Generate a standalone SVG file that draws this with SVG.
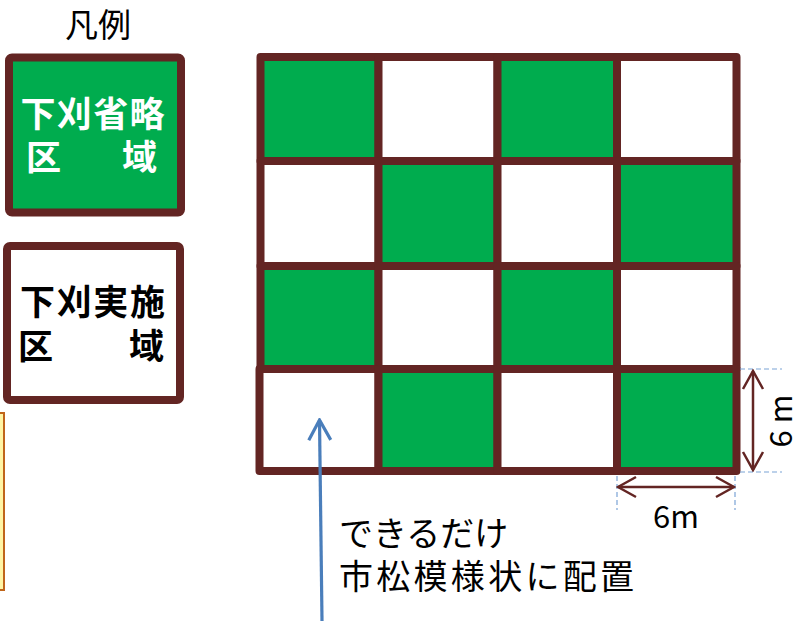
<svg xmlns="http://www.w3.org/2000/svg" width="794" height="621" viewBox="0 0 794 621">
<defs>
<style>
.cell{stroke:#632523;stroke-width:8;stroke-linejoin:round}
.g{fill:#00AC4E}
.w{fill:#FFFFFF}
.jp{font-family:"Noto Sans CJK JP","Noto Sans CJK SC",sans-serif}
.leg{font-size:35px;font-weight:bold}
.dim{stroke:#632523;stroke-width:2.5;fill:none}
.dash{stroke:#7BA3D6;stroke-width:1.2;stroke-dasharray:5 3;fill:none}
</style>
<marker id="openArrow" viewBox="0 0 24 24" refX="22" refY="12" markerWidth="24" markerHeight="24" markerUnits="userSpaceOnUse" orient="auto-start-reverse">
<path d="M4,2 L22,12 L4,22" fill="none" stroke="#632523" stroke-width="2.5"/>
</marker>
<marker id="blueArrow" viewBox="0 0 28 28" refX="26" refY="14" markerWidth="28" markerHeight="28" markerUnits="userSpaceOnUse" orient="auto">
<path d="M6,3 L26,14 L6,25" fill="none" stroke="#4A7EBB" stroke-width="3.2"/>
</marker>
</defs>
<rect width="794" height="621" fill="#FFFFFF"/>

<text class="jp" x="98" y="37" font-size="33" text-anchor="middle" fill="#000">凡例</text>

<g id="legend-skip">
<rect x="9" y="57.5" width="172" height="155" rx="3" class="cell g"/>
<text class="jp leg" x="92.5" y="127" text-anchor="middle" fill="#FFFFFF" textLength="144" lengthAdjust="spacing">下刈省略</text>
<text class="jp leg" x="26" y="170" fill="#FFFFFF">区</text>
<text class="jp leg" x="122" y="170" fill="#FFFFFF">域</text>
</g>

<g id="legend-do">
<rect x="7" y="246" width="173" height="154" rx="3" class="cell w"/>
<text class="jp leg" x="92.5" y="315" text-anchor="middle" fill="#000000" textLength="145" lengthAdjust="spacing">下刈実施</text>
<text class="jp leg" x="18" y="359" fill="#000000">区</text>
<text class="jp leg" x="129" y="359" fill="#000000">域</text>
</g>

<g id="side-note">
<rect x="-100" y="413" width="104" height="177" fill="#FFF5A5" stroke="#C0651A" stroke-width="2"/>
</g>

<g id="grid">
<rect id="c00" class="cell g" x="260.5" y="57" width="118" height="104"/>
<rect id="c01" class="cell w" x="378.5" y="57" width="119" height="104"/>
<rect id="c02" class="cell g" x="497.5" y="57" width="119.5" height="104"/>
<rect id="c03" class="cell w" x="617" y="57" width="119.5" height="104"/>
<rect id="c10" class="cell w" x="260.5" y="161" width="118" height="105"/>
<rect id="c11" class="cell g" x="378.5" y="161" width="119" height="105"/>
<rect id="c12" class="cell w" x="497.5" y="161" width="119.5" height="105"/>
<rect id="c13" class="cell g" x="617" y="161" width="119.5" height="105"/>
<rect id="c20" class="cell g" x="260.5" y="266" width="118" height="103"/>
<rect id="c21" class="cell w" x="378.5" y="266" width="119" height="103"/>
<rect id="c22" class="cell g" x="497.5" y="266" width="119.5" height="103"/>
<rect id="c23" class="cell w" x="617" y="266" width="119.5" height="103"/>
<rect id="c30" class="cell w" x="259.5" y="369" width="119" height="102"/>
<rect id="c31" class="cell g" x="378.5" y="369" width="119" height="102"/>
<rect id="c32" class="cell w" x="497.5" y="369" width="119.5" height="102"/>
<rect id="c33" class="cell g" x="617" y="369" width="119.5" height="102"/>
</g>

<g id="connectors">
<line class="dash" x1="740" y1="369" x2="782" y2="369"/>
<line class="dash" x1="740" y1="472" x2="782" y2="472"/>
<line class="dash" x1="617" y1="476" x2="617" y2="510"/>
<line class="dash" x1="735" y1="476" x2="735" y2="510"/>
<line class="dim" x1="753" y1="371" x2="753" y2="470" marker-start="url(#openArrow)" marker-end="url(#openArrow)"/>
<line class="dim" x1="618" y1="487" x2="734" y2="487" marker-start="url(#openArrow)" marker-end="url(#openArrow)"/>
<line x1="322" y1="621" x2="319.5" y2="420" stroke="#4A7EBB" stroke-width="3.2" marker-end="url(#blueArrow)"/>
</g>

<g id="labels">
<text class="jp" x="676" y="528" font-size="31" text-anchor="middle" fill="#000">6m</text>
<text class="jp" transform="translate(792,421) rotate(-90)" x="0" y="0" font-size="31" text-anchor="middle" fill="#000">6 m</text>
<text class="jp" x="339" y="546" font-size="34" fill="#000">できるだけ</text>
<text class="jp" x="339" y="589" font-size="34" fill="#000" textLength="295" lengthAdjust="spacing">市松模様状に配置</text>
</g>
</svg>
